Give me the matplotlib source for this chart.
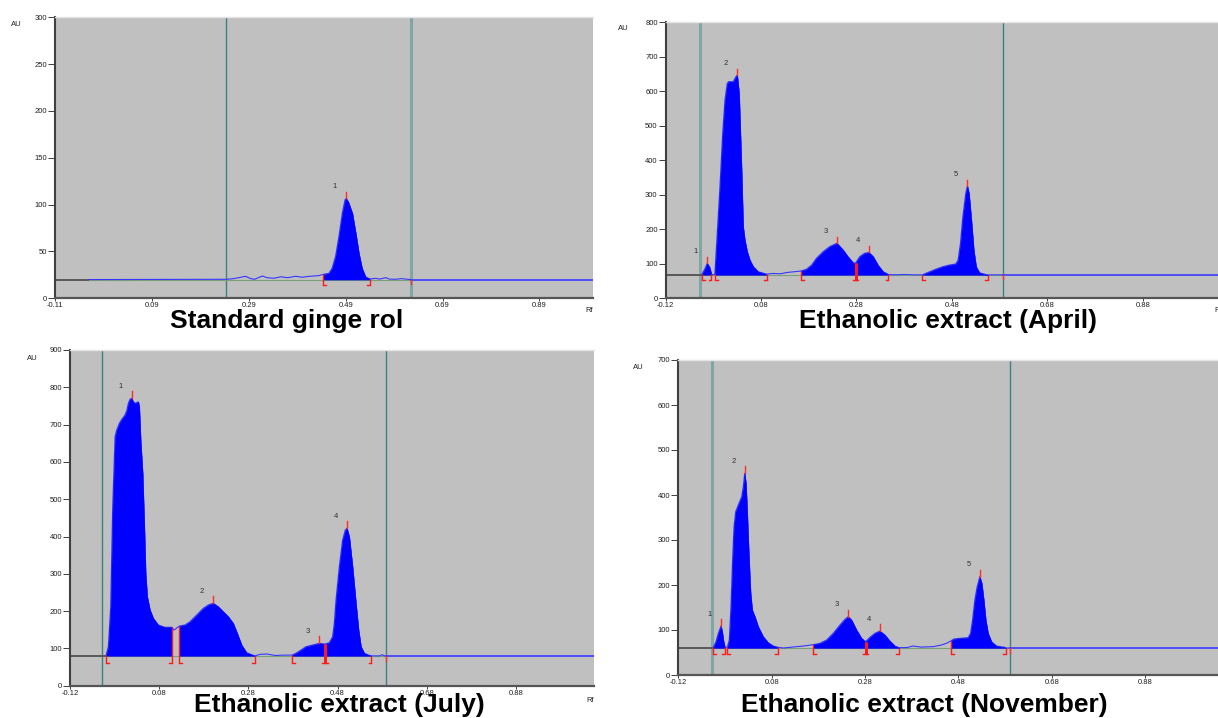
import matplotlib
matplotlib.use("Agg")
import matplotlib.pyplot as plt
import numpy as np

plt.rcParams["font.family"] = ["Liberation Sans", "DejaVu Sans"]

W, H = 1218, 718

# ---------------- Standard gingerol ----------------
std_title = "Standard ginge rol"
std_base = 20
std_rf = [-0.041, 0.2455, 0.259, 0.273, 0.2834, 0.2937, 0.302, 0.318, 0.328, 0.342,
          0.356, 0.370, 0.387, 0.400, 0.414, 0.4347, 0.444, 0.4555, 0.462, 0.469,
          0.476, 0.483, 0.4886, 0.491, 0.4955, 0.504, 0.511, 0.5175, 0.524, 0.531,
          0.540, 0.552, 0.560, 0.573, 0.580, 0.5935, 0.605, 0.624]
std_au = [20, 20.3, 21, 22.4, 23.5, 21, 20.3, 23.8, 22, 21.4,
          23, 22, 23.5, 22.5, 23.4, 24.2, 25.6, 26.7, 32, 44.4,
          65.8, 90.7, 105, 106.7, 103, 90.7, 69.4, 48, 32, 23,
          20.6, 21.3, 20.5, 22, 20.5, 20.3, 21, 20]
std_peaks = [(0.444, 0.540)]
std_marks = [0.244, 0.624]
std_xticks = [-0.11, 0.09, 0.29, 0.49, 0.69, 0.89]
std_yticks = [0, 50, 100, 150, 200, 250, 300]

# ---------------- Ethanolic extract (April) ----------------
apr_title = "Ethanolic extract (April)"
apr_base = 68
apr_rf = [-0.044, -0.038, -0.033, -0.028, -0.024, -0.020, -0.017, -0.012, -0.0063, -0.0006,
          0.0042, 0.009, 0.012, 0.0216, 0.027, 0.030, 0.034, 0.039, 0.0425, 0.046,
          0.051, 0.0565, 0.0635, 0.074, 0.0915, 0.105, 0.120, 0.135, 0.150, 0.163,
          0.175, 0.186, 0.196, 0.210, 0.224, 0.239, 0.252, 0.262, 0.273, 0.278,
          0.287, 0.297, 0.306, 0.315, 0.325, 0.336, 0.347, 0.360, 0.380, 0.400,
          0.418, 0.4335, 0.4475, 0.461, 0.475, 0.488, 0.493, 0.498, 0.503, 0.509,
          0.5125, 0.516, 0.521, 0.526, 0.531, 0.538, 0.552, 0.556, 0.588]
apr_au = [70, 85, 101.5, 90, 70, 68, 70, 188, 324, 478,
          575, 623, 628, 628, 642, 647, 594, 381, 208, 169,
          135, 111, 92, 77, 70, 72, 71, 75, 77, 79,
          84, 96.5, 116, 135, 150, 159.5, 140, 121, 103, 102,
          121, 130.5, 133, 121, 96.5, 77, 69, 68, 69, 68,
          68, 77, 85, 91.7, 96.5, 99.4, 111, 159.5, 236.6, 304,
          325.6, 304, 227, 140, 91.7, 74, 68.5, 68, 68]
apr_peaks = [(-0.044, -0.024), (-0.017, 0.0915), (0.163, 0.278), (0.278, 0.347), (0.418, 0.556)]
apr_marks = [-0.0475, 0.588]
apr_xticks = [-0.12, 0.08, 0.28, 0.48, 0.68, 0.88]
apr_yticks = [0, 100, 200, 300, 400, 500, 600, 700, 800]

# ---------------- Ethanolic extract (July) ----------------
jul_title = "Ethanolic extract (July)"
jul_base = 80
jul_rf = [-0.039, -0.0341, -0.0288, -0.0243, -0.019, -0.0153, -0.0094, -0.0041, 0.0033, 0.0071,
          0.0108, 0.0145, 0.0183, 0.022, 0.0257, 0.0295, 0.0332, 0.0354, 0.0385, 0.043,
          0.0466, 0.0497, 0.0533, 0.0594, 0.0668, 0.078, 0.093, 0.1087, 0.1132, 0.1251,
          0.1378, 0.149, 0.164, 0.1789, 0.190, 0.2013, 0.2125, 0.2237, 0.235, 0.246,
          0.255, 0.265, 0.276, 0.291, 0.295, 0.306, 0.321, 0.340, 0.360, 0.3775,
          0.3865, 0.398, 0.409, 0.4238, 0.439, 0.4517, 0.4613, 0.4688, 0.4726, 0.4764,
          0.4838, 0.4912, 0.4973, 0.5011, 0.5063, 0.5137, 0.5213, 0.5272, 0.5326, 0.540,
          0.5512, 0.556, 0.575, 0.580, 0.585, 0.588]
jul_au = [82, 104.6, 211.8, 480, 667.6, 685.5, 703.4, 714, 725.7, 737,
          757, 768, 770.5, 761, 757, 759, 761, 748, 659, 569.4,
          435, 301, 238.6, 203, 180.7, 162.7, 156.6, 156.6, 149, 160,
          162.7, 171.6, 189.5, 207.5, 216.4, 221, 211.8, 198.4, 185, 167.3,
          140.5, 109, 88.5, 81.5, 80, 84, 85, 81, 82, 82,
          86.9, 95.7, 104.6, 109, 113.6, 111.8, 115.3, 131.4, 167.3, 229.8,
          319, 390.6, 417.4, 422, 399.5, 319, 221, 149.3, 104.6, 86.9,
          81.5, 80, 80, 83, 80, 80]
jul_peaks = [(-0.039, 0.1087), (0.1251, 0.295), (0.3775, 0.4517), (0.4517, 0.556)]
jul_marks = [-0.048, 0.588]
jul_xticks = [-0.12, 0.08, 0.28, 0.48, 0.68, 0.88]
jul_yticks = [0, 100, 200, 300, 400, 500, 600, 700, 800, 900]

# ---------------- Ethanolic extract (November) ----------------
nov_title = "Ethanolic extract (November)"
nov_base = 60
nov_rf = [-0.045, -0.0393, -0.0343, -0.0286, -0.0258, -0.0228, -0.020, -0.0151, -0.0108, -0.0072,
          -0.0035, -0.0007, 0.0029, 0.0085, 0.0158, 0.0192, 0.0222, 0.025, 0.0278, 0.0314,
          0.035, 0.0385, 0.0442, 0.0513, 0.062, 0.0727, 0.0834, 0.0941, 0.105, 0.115,
          0.1335, 0.1477, 0.160, 0.169, 0.1834, 0.1978, 0.2119, 0.2263, 0.237, 0.244,
          0.2513, 0.262, 0.2727, 0.2813, 0.2905, 0.3012, 0.3119, 0.3226, 0.3333, 0.344,
          0.3532, 0.370, 0.383, 0.400, 0.426, 0.444, 0.4547, 0.464, 0.4704, 0.4832,
          0.501, 0.5061, 0.5104, 0.5153, 0.5203, 0.526, 0.5303, 0.5346, 0.5389, 0.5438,
          0.5511, 0.5618, 0.5796, 0.582, 0.591]
nov_au = [61.5, 74, 92.6, 108.9, 96.3, 74, 61.5, 61.5, 77.8, 151.8,
          263, 329.6, 363, 377.8, 396.3, 418.5, 448, 426, 359.3, 263,
          181.5, 144.4, 129.6, 107.4, 85.2, 71.8, 64.4, 61.5, 60, 61,
          63, 64.4, 66, 67.4, 70.4, 77.8, 92.6, 111, 123.7, 129.6,
          122, 100, 81.5, 74, 83.7, 92.6, 97.8, 88.9, 75.6, 64.4,
          60.7, 61, 64.4, 62, 63, 66.7, 70.4, 75.6, 80, 81.5,
          83, 92.6, 122, 166.7, 196.3, 218.5, 203.7, 166.7, 122, 92.6,
          74, 64.4, 61.5, 60, 60]
nov_peaks = [(-0.045, -0.020), (-0.0151, 0.0941), (0.169, 0.2813), (0.2813, 0.3532), (0.464, 0.582)]
nov_marks = [-0.047, 0.591]
nov_xticks = [-0.12, 0.08, 0.28, 0.48, 0.68, 0.88]
nov_yticks = [0, 100, 200, 300, 400, 500, 600, 700]

fig = plt.figure(figsize=(W / 100, H / 100), dpi=100)
fig.patch.set_facecolor("white")


def panel(box, xlim, ylim, xticks, yticks, rf, au, base, peaks, marks, mark_lw):
    l, t, r, b = box
    ax = fig.add_axes([l / W, 1 - b / H, (r - l) / W, (b - t) / H])
    ax.set_facecolor("#c0c0c0")
    ax.set_xlim(*xlim)
    ax.set_ylim(*ylim)
    rf = np.array(rf)
    au = np.array(au)
    span = ylim[1] - ylim[0]

    # start / end of the scanned track
    for x, lw in zip(marks, mark_lw):
        col = "#3f8080" if lw < 1.5 else "#7fa5a5"
        ax.axvline(x, color=col, lw=lw, zorder=1.8)

    # baselines
    ax.plot([xlim[0], rf[0]], [base, base], color="#505050", lw=1.3, zorder=2)
    ax.plot([rf[0], rf[-1]], [base, base], color="#7aa07a", lw=0.8, zorder=1.9)
    ax.plot([rf[-1], xlim[1]], [base, base], color="#3a3aff", lw=1.2, zorder=2)
    ax.plot(rf, au, color="#3535ff", lw=0.8, zorder=2.5)

    low = base - 0.02 * span
    foot = 0.006
    starts = [p[0] for p in peaks]
    ends = [p[1] for p in peaks]
    for n, (s, e) in enumerate(peaks):
        m = (rf >= s - 1e-9) & (rf <= e + 1e-9)
        ax.fill_between(rf[m], base, au[m], color="#0000ff", lw=0.3,
                        edgecolor="#0000ff", zorder=3)
        i = np.argmax(au[m])
        px, py = rf[m][i], au[m][i]
        ax.plot([px, px], [py, py + 0.022 * span], color="#ff2a2a", lw=1, zorder=5)
        ax.annotate(str(n + 1), (px, py), xytext=(-8, 8.5), textcoords="offset points",
                    ha="center", va="center", fontsize=5.5, color="#303030")
        # integration brackets
        for x, side in ((s, 1), (e, -1)):
            shared = (side == 1 and x in ends) or (side == -1 and x in starts)
            top = np.interp(x, rf, au)
            lw = 2 if shared else 1
            ax.plot([x, x], [low, top], color="#ff1a1a", lw=lw, zorder=4,
                    solid_capstyle="butt")
            ax.plot([x, x + side * foot], [low, low], color="#ff1a1a", lw=1, zorder=4)
    # end-of-track tick
    ax.plot([marks[1], marks[1]], [base, base - 0.015 * span], color="#ff3030", lw=1, zorder=4)

    ax.set_xticks(xticks)
    ax.set_xticklabels([f"{v:.2f}" for v in xticks])
    ax.set_yticks(yticks)
    ax.set_yticklabels([str(v) for v in yticks])
    ax.tick_params(axis="x", length=2, width=0.6, pad=0.8, labelsize=5.5,
                   colors="#202020", direction="out")
    ax.tick_params(axis="y", length=5, width=0.6, pad=0.8, labelsize=5.5,
                   colors="#202020", direction="out")
    ax.spines["right"].set_visible(False)
    ax.spines["top"].set_color("#e4e4e4")
    ax.spines["top"].set_linewidth(1)
    ax.spines["left"].set_color("#404040")
    ax.spines["left"].set_linewidth(1.5)
    ax.spines["bottom"].set_color("#555555")
    ax.spines["bottom"].set_linewidth(1.6)
    return ax


panel((55, 17.3, 592.7, 298.3), (-0.11, 1.0), (0, 300), std_xticks, std_yticks,
      std_rf, std_au, std_base, std_peaks, std_marks, [1.0, 2.2])
panel((665.7, 22.3, 1218, 298.3), (-0.12, 1.038), (0, 800), apr_xticks, apr_yticks,
      apr_rf, apr_au, apr_base, apr_peaks, apr_marks, [2.2, 1.0])
panel((70, 350, 594, 685.7), (-0.12, 1.055), (0, 900), jul_xticks, jul_yticks,
      jul_rf, jul_au, jul_base, jul_peaks, jul_marks, [1.0, 1.0])
panel((678.3, 360, 1218, 675), (-0.12, 1.0364), (0, 700), nov_xticks, nov_yticks,
      nov_rf, nov_au, nov_base, nov_peaks, nov_marks, [2.2, 1.0])


def ftext(x, y, s, **kw):
    fig.text(x / W, 1 - y / H, s, **kw)


for x, y in ((16, 24), (623, 29), (32, 358), (638, 367)):
    ftext(x, y, "AU", ha="center", va="center", fontsize=5.5, color="#202020")
ftext(593, 311, "Rf", ha="right", va="center", fontsize=5.5, color="#202020")
ftext(594, 700, "Rf", ha="right", va="center", fontsize=5.5, color="#202020")
ftext(1214, 311, "Rf", ha="left", va="center", fontsize=5.5, color="#202020")

for cx, by, s in ((286.7, 328, std_title), (948.3, 328, apr_title),
                  (339.7, 711.7, jul_title), (924.7, 711.7, nov_title)):
    ftext(cx, by, s, ha="center", va="baseline", fontsize=19, fontweight="bold")

fig.savefig("out.png", dpi=100)
